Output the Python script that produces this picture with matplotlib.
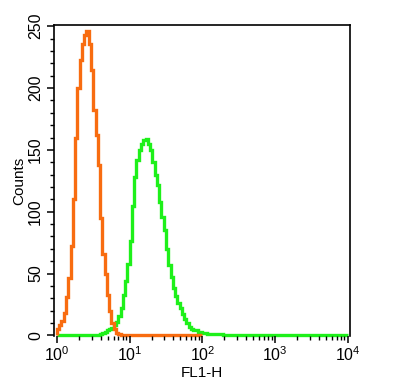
import numpy as np
import matplotlib
matplotlib.use('Agg')
import matplotlib.pyplot as plt
from matplotlib.ticker import LogLocator, MultipleLocator

plt.rcParams['font.family'] = ['Liberation Sans', 'DejaVu Sans']

# channel resolution: 32 channels per decade, channel 0 starts at 10^0
CH_PER_DECADE = 32

# isotype / control (orange), channels 0..63
orange_counts = [5, 8, 12, 18, 31, 46, 72, 110, 160, 200,
                 223, 236, 243, 246, 236, 215, 182, 162, 138, 95,
                 66, 50, 33, 20, 10, 5, 2, 1] + [0] * 36

# stained sample (green), channels 0..127
green_counts = [0] * 19 + [1, 2, 3, 4, 5, 6, 8, 11, 16, 22,
                           33, 44, 58, 76, 105, 128, 142, 150, 155, 158,
                           159, 155, 150, 140, 130, 122, 108, 96, 85, 70,
                           57, 47, 38, 32, 26, 22, 17, 13, 10, 7,
                           5, 4, 4, 3, 3, 2, 2, 1, 1, 1,
                           1, 1, 1, 1] + [0] * 55

y_ticks = [0, 50, 100, 150, 200, 250]

fig = plt.figure(figsize=(3.97, 3.91), dpi=100)
ax = fig.add_axes([54 / 397, 1 - 336 / 391, 296 / 397, 311 / 391])

green_edges = 10 ** (np.arange(len(green_counts) + 1) / CH_PER_DECADE)
orange_edges = 10 ** (np.arange(len(orange_counts) + 1) / CH_PER_DECADE)

ax.stairs(green_counts, green_edges, color='#1ef01a', linewidth=2.4, clip_on=False)
ax.stairs(orange_counts, orange_edges, color='#f86c10', linewidth=2.4, clip_on=False)

ax.set_xscale('log')
ax.set_xlim(10 ** -0.04, 10 ** 4.03)
ax.set_ylim(-0.5, 251)

ax.xaxis.set_major_locator(LogLocator(base=10, numticks=10))
ax.xaxis.set_minor_locator(LogLocator(base=10, subs=np.arange(2, 10), numticks=10))
ax.set_yticks(y_ticks)
ax.yaxis.set_minor_locator(MultipleLocator(10))

ax.spines['bottom'].set_visible(False)
for s in ['left', 'top', 'right']:
    ax.spines[s].set_linewidth(1.2)

ax.tick_params(axis='both', which='major', length=5, width=1.1, labelsize=11.5, direction='out')
ax.tick_params(axis='both', which='minor', length=2.8, width=1.0, direction='out')
ax.tick_params(axis='y', pad=3)
ax.tick_params(axis='x', pad=2)
for lbl in ax.get_yticklabels():
    lbl.set_rotation(90)
    lbl.set_va('center')

ax.set_xlabel('FL1-H', fontsize=11, labelpad=1)
ax.set_ylabel('Counts', fontsize=11, labelpad=1)

fig.savefig('out.png', dpi=100)
